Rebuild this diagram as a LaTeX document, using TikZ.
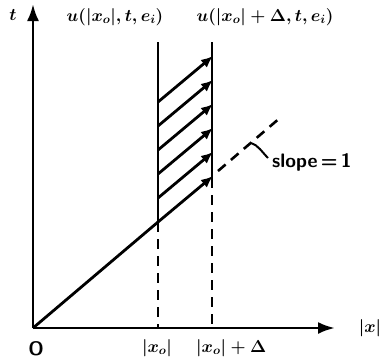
\documentclass[tikz,border=0pt]{standalone}
\usepackage{amsmath}
\usetikzlibrary{arrows.meta}
\begin{document}
\begin{tikzpicture}[x=1pt,y=-1pt,
  lbl/.style={font=\fontsize{18.8}{22}\selectfont\boldmath, inner sep=0pt},
  slbl/.style={font=\fontsize{19.5}{22}\selectfont\sffamily\bfseries, inner sep=0pt},
  ln/.style={line width=2.8pt},
  dsh/.style={line width=2.6pt, dash pattern=on 10pt off 7pt},
  hat/.style={ln, -{Latex[length=12pt,width=10pt]}},
  ax/.style={line width=2.8pt, -{Latex[length=17pt,width=12pt]}}]
\useasboundingbox (0,0) rectangle (382,362);
% axes
\coordinate (O) at (33,328);
\coordinate (ytip) at (33,4);
\coordinate (xtip) at (335,328);
\draw[ax] (O) -- (ytip);
\draw[ax] (O) -- (xtip);
% vertical lines
\coordinate (LT) at (158,42);
\coordinate (LB) at (158,222);
\coordinate (LA) at (158,328);
\coordinate (RT) at (212,42);
\coordinate (RB) at (212,178);
\coordinate (RA) at (212,328);
\draw[ln] (LT) -- (LB);
\draw[ln] (RT) -- (RB);
\draw[dsh] (LB) -- (LA);
\draw[dsh] (RB) -- (RA);
% line from origin
\draw[ln] (O) -- (LB);
% hatching arrows
\foreach \i/\yl/\yr in {1/222/176, 2/198/152, 3/174/128, 4/150/104, 5/126/80, 6/102/56}{
  \coordinate (L\i) at (158,\yl);
  \coordinate (R\i) at (213,\yr);
  \draw[hat] (L\i) -- (R\i);
}
% slope continuation
\coordinate (S1) at (218,171);
\coordinate (S2) at (281,117);
\draw[dsh] (S1) -- (S2);
\coordinate (SL) at (251,143);
\coordinate (SE) at (268,158);
\draw[line width=2pt] (SL) .. controls (258,145) and (262,152) .. (SE);
% labels
\node[lbl] (t) at (13,15) {$t$};
\node[lbl] (u1) at (115,17) {$u(|x_o|,t,e_i)$};
\node[lbl] (u2) at (265,17) {$u(|x_o|+\Delta,t,e_i)$};
\node[slbl] (o) at (36,349) {O};
\node[lbl] (x0) at (157,348) {$|x_o|$};
\node[lbl, anchor=west] (x0d) at (196,348) {$|x_o|+\Delta$};
\node[lbl] (xl) at (370,328) {$|x|$};
\node[slbl, anchor=west] (s) at (272,162) {slope\,=\,1};
\end{tikzpicture}
\end{document}
